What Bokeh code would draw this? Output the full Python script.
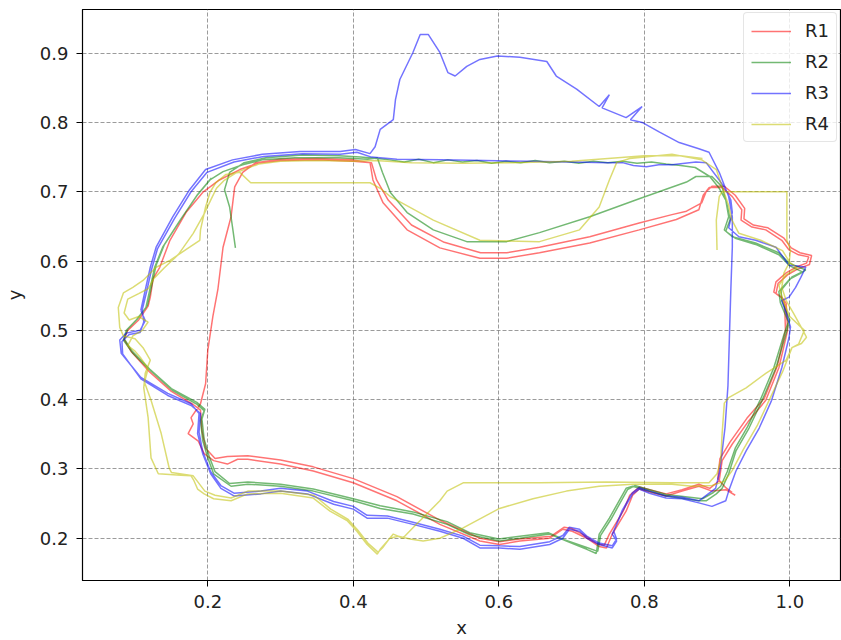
from bokeh.plotting import figure
from bokeh.models import FixedTicker, NumeralTickFormatter, Range1d
from bokeh.embed import file_html
from bokeh.resources import INLINE

series_names = ["R1", "R2", "R3", "R4"]
series_colors = ["#ff0000", "#008000", "#0000ff", "#bfbf00"]

x_ticks = [0.2, 0.4, 0.6, 0.8, 1.0]
y_ticks = [0.2, 0.3, 0.4, 0.5, 0.6, 0.7, 0.8, 0.9]

# ---------------- R1 (red) ----------------
r1_x = [0.925, 0.912, 0.893, 0.875, 0.852, 0.830, 0.810, 0.793, 0.784, 0.775, 0.756, 0.748, 0.738, 0.721, 0.701, 0.688, 0.670, 0.629, 0.601, 0.574, 0.519, 0.460, 0.400, 0.345, 0.300, 0.255, 0.241, 0.227, 0.208, 0.195, 0.187, 0.173, 0.180, 0.177, 0.190, 0.197, 0.200, 0.207, 0.214, 0.221, 0.232, 0.237, 0.248, 0.266, 0.300, 0.350, 0.400, 0.423,
        0.427, 0.441, 0.474, 0.519, 0.574, 0.611, 0.656, 0.725, 0.793, 0.844, 0.875, 0.881, 0.889, 0.907, 0.921, 0.934, 0.933, 0.948, 0.967, 0.989, 0.999, 1.012, 1.026, 1.023, 1.008, 0.995, 0.981, 0.978, 0.989, 0.995, 0.997, 0.985, 0.967, 0.944, 0.921, 0.907, 0.903, 0.890,
        0.875, 0.852, 0.830, 0.793, 0.780, 0.771, 0.752, 0.745, 0.735, 0.718, 0.700, 0.690, 0.672, 0.629, 0.601, 0.574, 0.519, 0.460, 0.400, 0.345, 0.300, 0.255, 0.227, 0.210, 0.197, 0.192, 0.190, 0.180, 0.150, 0.120, 0.095, 0.085, 0.090, 0.105, 0.118, 0.121, 0.125, 0.134, 0.148, 0.170, 0.193, 0.216, 0.244, 0.271, 0.300, 0.350, 0.400, 0.425,
        0.432, 0.448, 0.480, 0.525, 0.575, 0.611, 0.656, 0.725, 0.793, 0.838, 0.858, 0.879, 0.885, 0.893, 0.910, 0.925, 0.938, 0.937, 0.950, 0.970, 0.992, 1.002, 1.014, 1.030, 1.027, 1.010, 0.997, 0.984, 0.981, 0.990, 0.993, 0.994, 0.983, 0.965, 0.941, 0.918, 0.904, 0.901, 0.912, 0.921]
r1_y = [0.262, 0.270, 0.268, 0.275, 0.268, 0.261, 0.266, 0.271, 0.262, 0.239, 0.206, 0.186, 0.188, 0.200, 0.210, 0.213, 0.200, 0.196, 0.191, 0.196, 0.220, 0.254, 0.280, 0.297, 0.307, 0.314, 0.314, 0.307, 0.312, 0.322, 0.340, 0.351, 0.365, 0.374, 0.394, 0.423, 0.471, 0.520, 0.560, 0.620, 0.664, 0.707, 0.728, 0.742, 0.747, 0.748, 0.746, 0.742,
        0.717, 0.684, 0.645, 0.619, 0.604, 0.604, 0.612, 0.626, 0.645, 0.660, 0.674, 0.695, 0.706, 0.706, 0.693, 0.674, 0.659, 0.649, 0.645, 0.630, 0.616, 0.609, 0.606, 0.597, 0.591, 0.583, 0.570, 0.555, 0.548, 0.539, 0.500, 0.446, 0.399, 0.370, 0.336, 0.312, 0.283, 0.272,
        0.278, 0.270, 0.264, 0.274, 0.262, 0.239, 0.206, 0.190, 0.192, 0.204, 0.214, 0.216, 0.203, 0.199, 0.195, 0.200, 0.226, 0.260, 0.286, 0.303, 0.313, 0.319, 0.318, 0.315, 0.330, 0.355, 0.385, 0.393, 0.412, 0.440, 0.469, 0.487, 0.500, 0.515, 0.535, 0.548, 0.575, 0.591, 0.630, 0.670, 0.699, 0.717, 0.732, 0.742, 0.745, 0.746, 0.744, 0.742,
        0.717, 0.688, 0.652, 0.627, 0.612, 0.612, 0.620, 0.635, 0.655, 0.667, 0.672, 0.684, 0.700, 0.708, 0.708, 0.695, 0.676, 0.661, 0.652, 0.648, 0.633, 0.619, 0.612, 0.608, 0.595, 0.588, 0.580, 0.568, 0.553, 0.546, 0.537, 0.500, 0.449, 0.402, 0.373, 0.339, 0.315, 0.286, 0.273, 0.266]

# ---------------- R2 (green) ----------------
r2_x = [0.238, 0.234, 0.230, 0.223, 0.230, 0.250, 0.280, 0.330, 0.380, 0.410, 0.433,
        0.450, 0.470, 0.490, 0.510, 0.530, 0.550, 0.570, 0.590, 0.610, 0.630, 0.650, 0.670, 0.690, 0.710, 0.730, 0.750, 0.770, 0.790, 0.810, 0.830, 0.850, 0.870, 0.890, 0.903, 0.912, 0.916, 0.910, 0.921, 0.953, 0.985, 0.999, 1.022, 1.003, 0.988, 0.989, 1.000, 0.995, 0.981, 0.962, 0.944, 0.926, 0.916, 0.907, 0.899, 0.885,
        0.875, 0.830, 0.784, 0.775, 0.752, 0.738, 0.734, 0.721, 0.693, 0.670, 0.629, 0.601, 0.560, 0.529, 0.482, 0.437, 0.400, 0.345, 0.300, 0.255, 0.232, 0.208, 0.200, 0.193, 0.190, 0.195, 0.184, 0.152, 0.121, 0.097, 0.084, 0.088, 0.101, 0.115,
        0.121, 0.127, 0.138, 0.162, 0.184, 0.203, 0.221, 0.248, 0.275, 0.320, 0.380, 0.420, 0.433,
        0.440, 0.451, 0.474, 0.510, 0.556, 0.611, 0.656, 0.725, 0.793, 0.858, 0.871, 0.893, 0.907, 0.914, 0.918, 0.912, 0.925, 0.953, 0.985, 1.000, 1.018, 1.000, 0.985, 0.987, 0.998, 0.992, 0.978, 0.960, 0.942, 0.925, 0.914, 0.905, 0.895, 0.880,
        0.830, 0.787, 0.777, 0.754, 0.740, 0.736, 0.720, 0.690, 0.668, 0.629, 0.600, 0.560, 0.529, 0.482, 0.437, 0.400, 0.345, 0.300, 0.255, 0.230, 0.210, 0.202, 0.195, 0.192, 0.196, 0.185, 0.150, 0.120, 0.096, 0.085, 0.090, 0.103, 0.117, 0.123, 0.129, 0.140, 0.164, 0.186, 0.205]
r2_y = [0.619, 0.649, 0.678, 0.703, 0.728, 0.742, 0.749, 0.753, 0.752, 0.750, 0.748,
        0.746, 0.743, 0.747, 0.742, 0.746, 0.743, 0.745, 0.741, 0.744, 0.742, 0.745, 0.742, 0.744, 0.741, 0.744, 0.742, 0.744, 0.741, 0.743, 0.740, 0.738, 0.735, 0.722, 0.705, 0.688, 0.664, 0.645, 0.635, 0.626, 0.612, 0.597, 0.587, 0.577, 0.558, 0.543, 0.515, 0.496, 0.446, 0.399, 0.359, 0.326, 0.293, 0.272, 0.264, 0.254,
        0.254, 0.261, 0.275, 0.272, 0.229, 0.206, 0.178, 0.184, 0.196, 0.206, 0.200, 0.196, 0.205, 0.220, 0.235, 0.243, 0.254, 0.268, 0.275, 0.278, 0.275, 0.293, 0.316, 0.341, 0.370, 0.384, 0.394, 0.413, 0.442, 0.467, 0.486, 0.500, 0.514, 0.533,
        0.562, 0.591, 0.620, 0.659, 0.693, 0.717, 0.729, 0.739, 0.746, 0.749, 0.749, 0.747, 0.749,
        0.728, 0.699, 0.670, 0.645, 0.628, 0.628, 0.641, 0.664, 0.690, 0.714, 0.722, 0.722, 0.707, 0.680, 0.660, 0.643, 0.633, 0.624, 0.609, 0.593, 0.584, 0.574, 0.556, 0.540, 0.512, 0.494, 0.446, 0.401, 0.361, 0.330, 0.296, 0.275, 0.266, 0.257,
        0.263, 0.276, 0.270, 0.227, 0.204, 0.181, 0.187, 0.198, 0.208, 0.203, 0.199, 0.208, 0.224, 0.238, 0.247, 0.257, 0.271, 0.278, 0.281, 0.279, 0.296, 0.318, 0.343, 0.372, 0.386, 0.396, 0.416, 0.444, 0.470, 0.488, 0.502, 0.516, 0.536, 0.565, 0.594, 0.623, 0.662, 0.696, 0.720]

# ---------------- R3 (blue) ----------------
r3_x = [0.108, 0.114, 0.121, 0.129, 0.152, 0.175, 0.197, 0.234, 0.275, 0.327, 0.382, 0.403, 0.423,
        0.430, 0.437, 0.455, 0.458, 0.464, 0.482, 0.492, 0.503, 0.519, 0.530, 0.540, 0.556, 0.574, 0.598, 0.629, 0.666, 0.679, 0.707, 0.738, 0.752, 0.742, 0.775, 0.797, 0.781, 0.797, 0.821, 0.848, 0.875, 0.889, 0.903, 0.916, 0.921, 0.921, 0.919, 0.917, 0.915, 0.911, 0.906, 0.903, 0.898,
        0.875, 0.852, 0.830, 0.807, 0.793, 0.784, 0.770, 0.758, 0.762, 0.756, 0.738, 0.721, 0.711, 0.697, 0.688, 0.670, 0.629, 0.601, 0.574, 0.551, 0.519, 0.482, 0.447, 0.419, 0.400, 0.373, 0.337, 0.300, 0.273, 0.236, 0.218, 0.204, 0.193, 0.188, 0.190, 0.178, 0.145, 0.108, 0.083, 0.082, 0.092, 0.107, 0.112,
        0.110, 0.116, 0.123, 0.131, 0.154, 0.177, 0.199, 0.236, 0.277, 0.330, 0.382, 0.405, 0.425,
        0.460, 0.520, 0.580, 0.640, 0.700, 0.750, 0.770, 0.785, 0.803, 0.820, 0.838, 0.871, 0.885, 0.903, 0.912, 0.919, 0.921, 0.916, 0.930, 0.953, 0.981, 0.999, 1.010, 1.022, 1.015, 1.008, 0.999, 0.989, 0.995, 1.001, 0.999, 0.989, 0.975, 0.958, 0.940, 0.926, 0.916, 0.912, 0.893,
        0.875, 0.852, 0.830, 0.807, 0.793, 0.784, 0.770, 0.756, 0.762, 0.756, 0.738, 0.721, 0.711, 0.697, 0.688, 0.670, 0.629, 0.601, 0.574, 0.551, 0.519, 0.482, 0.447, 0.419, 0.400, 0.373, 0.337, 0.300, 0.273, 0.236, 0.218, 0.204, 0.193, 0.186, 0.188, 0.177, 0.145, 0.108, 0.081, 0.079, 0.088, 0.107, 0.114, 0.108]
r3_y = [0.529, 0.558, 0.591, 0.620, 0.664, 0.703, 0.732, 0.746, 0.754, 0.758, 0.758, 0.761, 0.755,
        0.765, 0.790, 0.804, 0.833, 0.862, 0.901, 0.927, 0.927, 0.901, 0.872, 0.867, 0.881, 0.891, 0.896, 0.894, 0.888, 0.867, 0.848, 0.823, 0.840, 0.821, 0.807, 0.823, 0.804, 0.800, 0.786, 0.771, 0.762, 0.757, 0.728, 0.693, 0.664, 0.620, 0.560, 0.490, 0.420, 0.360, 0.316, 0.293, 0.272,
        0.254, 0.259, 0.261, 0.268, 0.273, 0.266, 0.241, 0.210, 0.199, 0.189, 0.193, 0.203, 0.213, 0.216, 0.204, 0.195, 0.188, 0.189, 0.190, 0.203, 0.213, 0.223, 0.232, 0.233, 0.246, 0.253, 0.268, 0.272, 0.268, 0.265, 0.276, 0.296, 0.325, 0.353, 0.380, 0.391, 0.406, 0.430, 0.466, 0.484, 0.494, 0.497, 0.512,
        0.530, 0.556, 0.589, 0.618, 0.661, 0.700, 0.728, 0.743, 0.751, 0.755, 0.754, 0.757, 0.750,
        0.747, 0.746, 0.745, 0.744, 0.743, 0.742, 0.742, 0.738, 0.736, 0.739, 0.739, 0.743, 0.742, 0.717, 0.703, 0.688, 0.670, 0.648, 0.635, 0.630, 0.620, 0.594, 0.593, 0.591, 0.576, 0.562, 0.548, 0.543, 0.525, 0.505, 0.490, 0.446, 0.399, 0.359, 0.326, 0.297, 0.268, 0.254, 0.246,
        0.251, 0.257, 0.258, 0.265, 0.271, 0.264, 0.239, 0.206, 0.196, 0.186, 0.191, 0.200, 0.210, 0.213, 0.200, 0.191, 0.184, 0.186, 0.186, 0.200, 0.210, 0.220, 0.229, 0.229, 0.242, 0.249, 0.264, 0.268, 0.264, 0.261, 0.272, 0.293, 0.322, 0.351, 0.380, 0.394, 0.409, 0.432, 0.467, 0.486, 0.496, 0.500, 0.514, 0.529]

# ---------------- R4 (yellow) ----------------
r4_x = [0.900, 0.899, 0.903, 0.907, 0.996, 0.996, 1.001, 0.999, 0.992, 0.989, 0.995, 1.005, 1.016, 1.023, 1.016, 1.003, 0.995, 0.967, 0.940, 0.916, 0.910, 0.907, 0.905, 0.900, 0.889,
        0.838, 0.748, 0.656, 0.597, 0.551, 0.529, 0.519, 0.501, 0.482, 0.468, 0.455, 0.447, 0.437, 0.433, 0.419, 0.405, 0.392, 0.368, 0.345, 0.300, 0.255, 0.232, 0.208, 0.195, 0.186, 0.181, 0.177, 0.163, 0.132,
        0.122, 0.118, 0.112, 0.114, 0.121, 0.111, 0.100, 0.084, 0.079, 0.077, 0.084, 0.097, 0.111, 0.129, 0.148, 0.175, 0.189, 0.190, 0.197, 0.203, 0.211, 0.225, 0.244, 0.259, 0.340, 0.423,
        0.437, 0.451, 0.510, 0.574, 0.656, 0.711, 0.738, 0.752, 0.762, 0.780, 0.838, 0.879, 0.899, 0.907,
        0.916, 0.920, 0.930, 0.960, 0.990, 1.000, 1.010, 0.995, 0.985, 0.990, 1.000, 1.020, 1.012, 1.003, 0.990, 0.972, 0.955, 0.936, 0.921, 0.910, 0.893,
        0.866, 0.838, 0.784, 0.738, 0.693, 0.647, 0.601, 0.551, 0.519, 0.496, 0.478, 0.462, 0.450, 0.440, 0.434, 0.420, 0.406, 0.393, 0.369, 0.346, 0.300, 0.255, 0.232, 0.210, 0.196, 0.180, 0.150,
        0.147, 0.136, 0.122, 0.113, 0.118, 0.108, 0.100, 0.090, 0.097, 0.110, 0.118, 0.105, 0.092, 0.085, 0.090, 0.105, 0.118, 0.126, 0.140, 0.160, 0.180, 0.195, 0.205, 0.212, 0.222, 0.240, 0.270, 0.300, 0.350, 0.400, 0.430,
        0.480, 0.550, 0.620, 0.700, 0.750, 0.800, 0.850, 0.880]
r4_y = [0.616, 0.659, 0.693, 0.700, 0.700, 0.630, 0.616, 0.597, 0.583, 0.562, 0.543, 0.525, 0.504, 0.490, 0.481, 0.475, 0.457, 0.438, 0.417, 0.403, 0.395, 0.351, 0.312, 0.293, 0.280,
        0.280, 0.281, 0.280, 0.280, 0.280, 0.268, 0.254, 0.235, 0.215, 0.200, 0.206, 0.196, 0.184, 0.177, 0.191, 0.210, 0.225, 0.239, 0.258, 0.265, 0.264, 0.254, 0.257, 0.264, 0.271, 0.283, 0.290, 0.291, 0.293,
        0.316, 0.374, 0.417, 0.438, 0.457, 0.475, 0.488, 0.492, 0.504, 0.533, 0.554, 0.562, 0.572, 0.591, 0.601, 0.620, 0.630, 0.645, 0.678, 0.699, 0.713, 0.725, 0.728, 0.713, 0.713, 0.713,
        0.705, 0.693, 0.659, 0.630, 0.628, 0.645, 0.678, 0.717, 0.742, 0.748, 0.754, 0.746, 0.732, 0.707,
        0.680, 0.660, 0.640, 0.630, 0.615, 0.598, 0.590, 0.580, 0.565, 0.545, 0.520, 0.500, 0.480, 0.475, 0.440, 0.400, 0.362, 0.328, 0.298, 0.282, 0.276,
        0.275, 0.278, 0.278, 0.275, 0.268, 0.257, 0.243, 0.215, 0.200, 0.196, 0.199, 0.203, 0.200, 0.186, 0.180, 0.193, 0.212, 0.227, 0.242, 0.262, 0.268, 0.268, 0.258, 0.262, 0.268, 0.290, 0.295,
        0.301, 0.351, 0.399, 0.425, 0.445, 0.460, 0.470, 0.478, 0.492, 0.500, 0.512, 0.520, 0.515, 0.525, 0.545, 0.553, 0.560, 0.575, 0.590, 0.610, 0.640, 0.668, 0.690, 0.705, 0.716, 0.728, 0.740, 0.744, 0.745, 0.744, 0.745,
        0.742, 0.741, 0.742, 0.744, 0.748, 0.752, 0.752, 0.748]

all_x = [r1_x, r2_x, r3_x, r4_x]
all_y = [r1_y, r2_y, r3_y, r4_y]

FONT = "DejaVu Sans"

p = figure(width=841, height=640, output_backend="svg", toolbar_location=None,
           x_range=Range1d(0.0278, 1.0697), y_range=Range1d(0.139, 0.963),
           min_border_left=82, min_border_right=1, min_border_top=9, min_border_bottom=60)
p.background_fill_color = "white"
p.border_fill_color = "white"
p.outline_line_color = "black"
p.outline_line_width = 1.2

for xs, ys, name, col in zip(all_x, all_y, series_names, series_colors):
    p.line(xs, ys, line_color=col, line_alpha=0.55, line_width=1.5, legend_label=name)

for ax, ticks in ((p.xaxis, x_ticks), (p.yaxis, y_ticks)):
    ax.ticker = FixedTicker(ticks=ticks)
    ax.formatter = NumeralTickFormatter(format="0.0")
    ax.major_label_text_font = FONT
    ax.major_label_text_font_size = "18px"
    ax.major_label_text_color = "#222222"
    ax.axis_label_text_font = FONT
    ax.axis_label_text_font_size = "18px"
    ax.axis_label_text_font_style = "normal"
    ax.axis_label_text_color = "#222222"
    ax.major_tick_out = 6
    ax.major_tick_in = 0
    ax.minor_tick_out = 0
    ax.minor_tick_in = 0
    ax.major_label_standoff = 8
    ax.axis_line_color = "black"
    ax.major_tick_line_color = "black"

p.xaxis.axis_label = "x"
p.yaxis.axis_label = "y"
p.xaxis.axis_label_standoff = 6
p.yaxis.axis_label_standoff = 12

p.xgrid.ticker = FixedTicker(ticks=x_ticks)
p.ygrid.ticker = FixedTicker(ticks=y_ticks)
for g in (p.xgrid, p.ygrid):
    g.grid_line_color = "#707070"
    g.grid_line_dash = "4 2"
    g.grid_line_width = 0.7
    g.grid_line_alpha = 1.0

lg = p.legend[0]
lg.location = (661, 438)
lg.margin = 0
lg.padding = 7
lg.spacing = 10
lg.glyph_width = 40
lg.glyph_height = 20
lg.label_height = 20
lg.label_standoff = 14
lg.label_text_font = FONT
lg.label_text_font_size = "18px"
lg.label_text_color = "#222222"
lg.border_line_color = "#cccccc"
lg.border_line_width = 1
lg.background_fill_alpha = 0.8
try:
    lg.border_radius = 4
except Exception:
    pass

open("out.html", "w").write(file_html(p, INLINE))
